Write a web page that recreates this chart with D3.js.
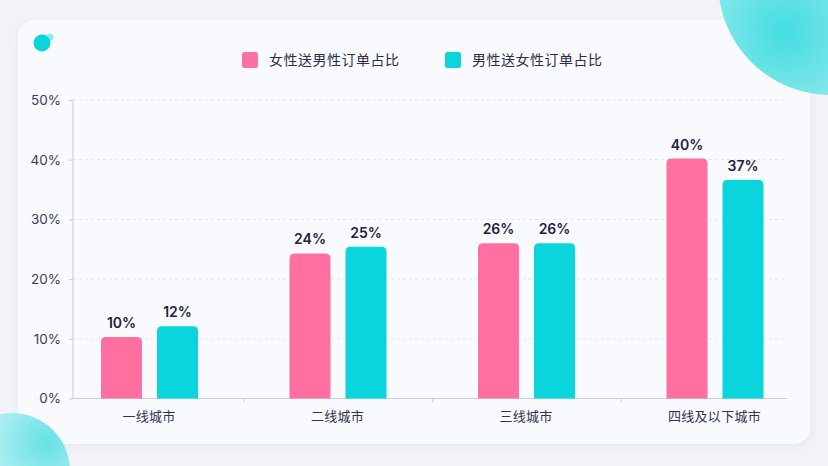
<!DOCTYPE html>
<html>
<head>
<meta charset="utf-8">
<script src="https://cdn.jsdelivr.net/npm/d3@7"></script>
<style>
  html, body { margin: 0; padding: 0; background: #f1f3f8; }
  svg { display: block; font-family: "Noto Sans CJK SC", "Noto Sans", sans-serif; }
  .num { font-family: Inter, "Noto Sans", sans-serif; }
</style>
</head>
<body>
<div class="plot"></div>
<script>
var categories = ["一线城市", "二线城市", "三线城市", "四线及以下城市"];
var seriesNames = ["女性送男性订单占比", "男性送女性订单占比"];
var femaleToMale = [10.3, 24.3, 26.0, 40.2];
var maleToFemale = [12.1, 25.4, 26.0, 36.6];
var yTicks = [0, 10, 20, 30, 40, 50];
var colors = ["#ff6fa0", "#0bd5dc"];

var W = 828, H = 466;
var svg = d3.select(".plot").append("svg")
  .attr("width", W)
  .attr("height", H);

var defs = svg.append("defs");

var shadow = defs.append("filter").attr("id", "shadow")
  .attr("x", "-5%").attr("y", "-5%").attr("width", "110%").attr("height", "115%");
shadow.append("feDropShadow")
  .attr("dx", 0).attr("dy", 2).attr("stdDeviation", 4)
  .attr("flood-color", "#c9d0e0").attr("flood-opacity", 0.35);

var g1 = defs.append("radialGradient").attr("id", "blobTR")
  .attr("cx", "30%").attr("cy", "72%").attr("r", "75%");
g1.append("stop").attr("offset", "0%").attr("stop-color", "#45dce0");
g1.append("stop").attr("offset", "45%").attr("stop-color", "#82e8eb");
g1.append("stop").attr("offset", "100%").attr("stop-color", "#d6f7f8");

var g2 = defs.append("radialGradient").attr("id", "blobBL")
  .attr("cx", "80%").attr("cy", "25%").attr("r", "85%");
g2.append("stop").attr("offset", "0%").attr("stop-color", "#66e1e5");
g2.append("stop").attr("offset", "55%").attr("stop-color", "#aeeff1");
g2.append("stop").attr("offset", "100%").attr("stop-color", "#e6f9fa");

// card
svg.append("rect")
  .attr("x", 18).attr("y", 20)
  .attr("width", 792).attr("height", 424)
  .attr("rx", 16)
  .attr("fill", "#f9fafd")
  .attr("filter", "url(#shadow)");

// decorative blobs
svg.append("circle").attr("cx", 831).attr("cy", -18).attr("r", 113)
  .attr("fill", "url(#blobTR)");
svg.append("circle").attr("cx", 12).attr("cy", 471).attr("r", 58)
  .attr("fill", "url(#blobBL)");

// logo
svg.append("circle").attr("cx", 50).attr("cy", 37).attr("r", 3.5).attr("fill", "#8fe9ec");
svg.append("circle").attr("cx", 42).attr("cy", 43).attr("r", 8.5).attr("fill", "#0bd5dc");

// scales
var x0 = d3.scaleBand().domain(categories).range([55.75, 809.75]);
var y = d3.scaleLinear().domain([0, 50]).range([398.5, 100]);
var axisLeft = 73, axisRight = 787;

var barW = 41, gap = 7;
var x1 = function(i) { return i === 0 ? -gap - barW - 1 : gap; };

// gridlines
svg.append("g").selectAll("line")
  .data(yTicks.filter(function(d) { return d > 0; }))
  .enter().append("line")
  .attr("x1", axisLeft).attr("x2", axisRight)
  .attr("y1", function(d) { return y(d); })
  .attr("y2", function(d) { return y(d); })
  .attr("stroke", "#e2e4ed")
  .attr("stroke-dasharray", "3,3");

// y axis
var yAxis = svg.append("g")
  .attr("transform", "translate(" + axisLeft + ",0)")
  .call(d3.axisLeft(y).tickValues(yTicks).tickSize(4).tickPadding(8)
    .tickFormat(function(d) { return d + "%"; }));
yAxis.select(".domain").attr("stroke", "#c9ccd8").attr("d", "M0," + y(50) + "V" + y(0));
yAxis.selectAll(".tick line").attr("stroke", "#c9ccd8");
yAxis.selectAll("text").attr("class", "num").attr("fill", "#3b3e5a").style("font-size", "13.5px");

// x axis baseline and ticks
svg.append("line")
  .attr("x1", axisLeft).attr("x2", axisRight)
  .attr("y1", y(0)).attr("y2", y(0))
  .attr("stroke", "#c9ccd8");
svg.append("g").selectAll("line")
  .data(categories.slice(1))
  .enter().append("line")
  .attr("x1", function(d) { return x0(d); })
  .attr("x2", function(d) { return x0(d); })
  .attr("y1", y(0)).attr("y2", y(0) + 4)
  .attr("stroke", "#c9ccd8");
svg.append("g").selectAll("text")
  .data(categories)
  .enter().append("text")
  .attr("x", function(d) { return x0(d) + x0.bandwidth() / 2 - 1; })
  .attr("y", 421)
  .attr("text-anchor", "middle")
  .attr("fill", "#2f3250")
  .style("font-size", "13px")
  .style("letter-spacing", "0.3px")
  .text(function(d) { return d; });

// bars with rounded tops
function barPath(x, top, w, bottom, r) {
  var h = bottom - top;
  r = Math.min(r, h);
  return "M" + x + "," + bottom +
    "V" + (top + r) +
    "Q" + x + "," + top + " " + (x + r) + "," + top +
    "H" + (x + w - r) +
    "Q" + (x + w) + "," + top + " " + (x + w) + "," + (top + r) +
    "V" + bottom + "Z";
}

var series = [femaleToMale, maleToFemale];
series.forEach(function(vals, si) {
  var grp = svg.append("g");
  grp.selectAll("path")
    .data(vals)
    .enter().append("path")
    .attr("d", function(d, i) {
      var cx = x0(categories[i]) + x0.bandwidth() / 2;
      return barPath(cx + x1(si), y(d), barW, y(0), 5);
    })
    .attr("fill", colors[si]);
  grp.selectAll("text")
    .data(vals)
    .enter().append("text")
    .attr("class", "num")
    .attr("x", function(d, i) {
      return x0(categories[i]) + x0.bandwidth() / 2 + x1(si) + barW / 2;
    })
    .attr("y", function(d) { return y(d) - 9; })
    .attr("text-anchor", "middle")
    .attr("fill", "#1f2240")
    .style("font-size", "14px")
    .style("font-weight", 600)
    .text(function(d) { return Math.round(d) + "%"; });
});

// legend
var legendX = [242, 445];
var legend = svg.append("g").selectAll("g")
  .data(seriesNames)
  .enter().append("g")
  .attr("transform", function(d, i) { return "translate(" + legendX[i] + ",52)"; });
legend.append("rect")
  .attr("width", 16).attr("height", 16).attr("rx", 2.5)
  .attr("fill", function(d, i) { return colors[i]; });
legend.append("text")
  .attr("x", 27).attr("y", 13)
  .attr("fill", "#2b2d48")
  .style("font-size", "14px")
  .style("letter-spacing", "0.5px")
  .text(function(d) { return d; });
</script>
</body>
</html>
